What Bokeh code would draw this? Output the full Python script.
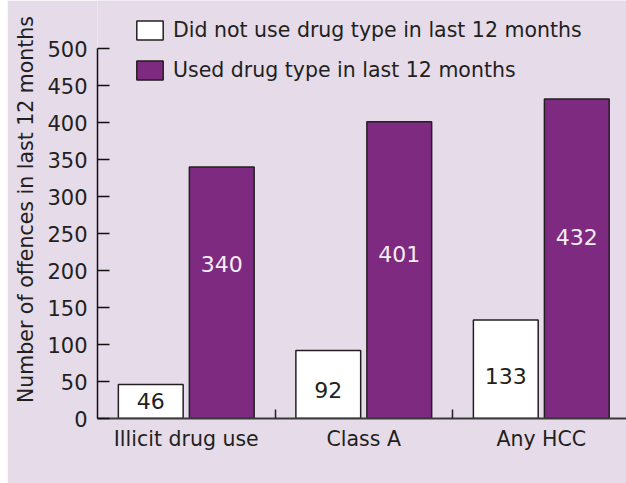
from bokeh.plotting import figure
from bokeh.models import (Range1d, FixedTicker, Legend, LegendItem,
                          ColumnDataSource, Spacer)
from bokeh.layouts import row
from bokeh.transform import dodge
from bokeh.core.properties import value
from bokeh.embed import file_html
from bokeh.resources import INLINE

# Offences in the last 12 months, by drug type
categories = ["Illicit drug use", "Class A", "Any HCC"]
did_not_use = [46, 92, 133]
used = [340, 401, 432]
series_names = ["Did not use drug type in last 12 months",
                "Used drug type in last 12 months"]
y_ticks = [0, 50, 100, 150, 200, 250, 300, 350, 400, 450, 500]

# vertical positions of the value labels inside the bars
label_y_not = [24, 39, 58]
label_y_used = [209, 223, 245]

FONT = "DejaVu Sans"
BG = "#E5DBE9"
PURPLE = "#7E2A80"
EDGE = "#231F20"

centers = [i + 0.5 for i in range(len(categories))]
src = ColumnDataSource(dict(
    x=centers,
    not_used=did_not_use,
    used=used,
    lab_not=[str(v) for v in did_not_use],
    lab_used=[str(v) for v in used],
    ly_not=label_y_not,
    ly_used=label_y_used,
))

p = figure(width=619, height=483,
           x_range=Range1d(0, 2.98), y_range=Range1d(0, 565),
           output_backend="svg", toolbar_location=None,
           min_border_left=90, min_border_right=0,
           min_border_top=0, min_border_bottom=65)
p.background_fill_color = BG
p.border_fill_color = BG
p.outline_line_color = None
p.xgrid.grid_line_color = None
p.ygrid.grid_line_color = None

r_not = p.vbar(x=dodge("x", -0.2, range=p.x_range), top="not_used", width=0.365,
               source=src, fill_color="white", line_color=EDGE, line_width=1.5)
r_used = p.vbar(x=dodge("x", 0.2, range=p.x_range), top="used", width=0.365,
                source=src, fill_color=PURPLE, line_color=EDGE, line_width=1.5)

p.text(x=dodge("x", -0.2, range=p.x_range), y="ly_not", text="lab_not", source=src,
       text_align="center", text_baseline="middle",
       text_font=value(FONT), text_font_size="22px", text_color="#231F20")
p.text(x=dodge("x", 0.2, range=p.x_range), y="ly_used", text="lab_used", source=src,
       text_align="center", text_baseline="middle",
       text_font=value(FONT), text_font_size="22px", text_color="#F4EEF4")

# y axis: inward ticks, line limited to 0..500
ya = p.yaxis[0]
ya.ticker = FixedTicker(ticks=y_ticks)
ya.bounds = (0, 500)
ya.axis_line_color = "#111111"
ya.axis_line_width = 1.5
ya.major_tick_in = 12
ya.major_tick_out = 0
ya.major_tick_line_color = "#111111"
ya.major_tick_line_width = 1.5
ya.minor_tick_line_color = None
ya.major_label_standoff = 10
ya.major_label_text_font = FONT
ya.major_label_text_font_size = "21px"
ya.major_label_text_color = "#231F20"
ya.axis_label = "Number of offences in last 12 months"
ya.axis_label_text_font = FONT
ya.axis_label_text_font_size = "20.5px"
ya.axis_label_text_font_style = "normal"
ya.axis_label_text_color = "#231F20"
ya.axis_label_standoff = 6

# x axis: category labels at group centres, separator ticks between groups
xa = p.xaxis[0]
xa.ticker = FixedTicker(ticks=centers, minor_ticks=[1, 2])
xa.major_label_overrides = {c: name for c, name in zip(centers, categories)}
xa.axis_line_color = "#3A3A3A"
xa.axis_line_width = 2
xa.major_tick_line_color = None
xa.minor_tick_in = 9
xa.minor_tick_out = 0
xa.minor_tick_line_color = "#222222"
xa.minor_tick_line_width = 1.5
xa.major_label_standoff = 2
xa.major_label_text_font = FONT
xa.major_label_text_font_size = "20.5px"
xa.major_label_text_color = "#231F20"

legend = Legend(
    items=[LegendItem(label=series_names[0], renderers=[r_not]),
           LegendItem(label=series_names[1], renderers=[r_used])],
    location=(36, 336), orientation="vertical",
    glyph_width=33, glyph_height=24, label_height=24,
    spacing=16, padding=0, margin=0, label_standoff=7,
    border_line_color=None, background_fill_alpha=0,
    label_text_font=FONT, label_text_font_size="20.5px",
    label_text_color="#231F20",
)
p.add_layout(legend)

layout = row(Spacer(width=7, height=483), p)
open("out.html", "w").write(file_html(layout, INLINE))
